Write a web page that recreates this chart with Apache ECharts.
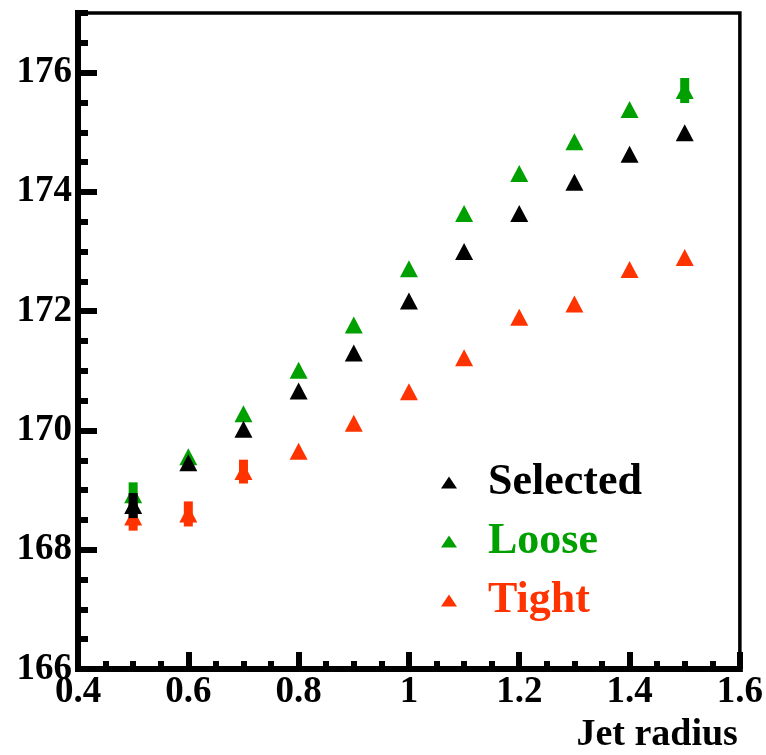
<!DOCTYPE html>
<html><head><meta charset="utf-8">
<script src="https://cdn.jsdelivr.net/npm/echarts@6/dist/echarts.min.js"></script>
<style>html,body{margin:0;padding:0;background:#fff}#c{width:766px;height:755px}</style>
</head><body><div id="c"></div>
<script>
const jetRadius = [0.5, 0.6, 0.7, 0.8, 0.9, 1.0, 1.1, 1.2, 1.3, 1.4, 1.5];
const selected = [168.74, 169.46, 170.02, 170.66, 171.30, 172.17, 173.00, 173.64, 174.16, 174.63, 174.99];
const loose    = [168.92, 169.56, 170.28, 171.01, 171.77, 172.71, 173.64, 174.31, 174.84, 175.38, 175.70];
const tight    = [168.55, 168.60, 169.31, 169.65, 170.12, 170.65, 171.22, 171.90, 172.12, 172.70, 172.90];
const selectedErr = [0.21, 0, 0, 0, 0, 0, 0, 0, 0, 0, 0];
const looseErr    = [0.21, 0, 0, 0, 0, 0, 0, 0, 0, 0, 0.21];
const tightErr    = [0.23, 0.21, 0.20, 0, 0, 0, 0, 0, 0, 0, 0];
const xTicks = [0.4, 0.6, 0.8, 1, 1.2, 1.4, 1.6];
const yTicks = [166, 168, 170, 172, 174, 176];
const seriesNames = ['Selected', 'Loose', 'Tight'];
const xTitle = 'Jet radius';

const colors = ['#000000', '#00a000', '#ff3300'];
const FONT = 'Liberation Serif';

function errSeries(name, vals, errs, color, z) {
  const data = [];
  jetRadius.forEach((x, i) => { if (errs[i] > 0) data.push([x, vals[i], errs[i]]); });
  return {
    type: 'custom', name: name + ' err', z: z, silent: true,
    data: data, encode: { x: 0, y: 1 },
    renderItem(params, api) {
      const x = api.value(0), v = api.value(1), e = api.value(2);
      const p1 = api.coord([x, v + e]), p2 = api.coord([x, v - e]);
      return { type: 'rect', shape: { x: p1[0] - 4.5, y: p1[1], width: 9, height: p2[1] - p1[1] }, style: { fill: color } };
    }
  };
}
function ptSeries(name, vals, color, z) {
  return {
    type: 'scatter', name: name, z: z, symbol: 'triangle', symbolSize: [18, 17],
    itemStyle: { color: color, opacity: 1 },
    data: jetRadius.map((x, i) => [x, vals[i]])
  };
}
const labelStyle = { fontFamily: FONT, fontWeight: 'bold', fontSize: 37, color: '#000' };

const chart = echarts.init(document.getElementById('c'), null, { renderer: 'canvas' });
chart.setOption({
  animation: false,
  backgroundColor: '#fff',
  grid: { left: 78, right: 24, top: 13, bottom: 86, show: true, borderColor: '#000', borderWidth: 3.5, backgroundColor: 'transparent' },
  xAxis: [
    { type: 'value', min: 0.4, max: 1.6, interval: 0.2, position: 'bottom',
      axisLine: { show: true, onZero: false, lineStyle: { color: '#000', width: 6, cap: 'square' } },
      axisTick: { inside: true, length: 17, lineStyle: { color: '#000', width: 6 } },
      axisLabel: Object.assign({ margin: 5, formatter: v => { const r = +(+v).toFixed(1); return xTicks.includes(r) ? String(r) : ''; } }, labelStyle),
      splitLine: { show: false },
      name: xTitle, nameLocation: 'end', nameGap: -2,
      nameTextStyle: { fontFamily: FONT, fontWeight: 'bold', fontSize: 38, color: '#000', align: 'right', verticalAlign: 'top', padding: [47, 0, 0, 0] }
    },
    { type: 'value', min: 0.4, max: 1.6, interval: 0.05, position: 'bottom',
      axisLine: { show: false, onZero: false },
      axisTick: { inside: true, length: 8, lineStyle: { color: '#000', width: 6 } },
      axisLabel: { show: false }, splitLine: { show: false }
    }
  ],
  yAxis: [
    { type: 'value', min: 166, max: 177, interval: 2, position: 'left',
      axisLine: { show: true, onZero: false, lineStyle: { color: '#000', width: 6, cap: 'square' } },
      axisTick: { inside: true, length: 19, lineStyle: { color: '#000', width: 6 } },
      axisLabel: Object.assign({ margin: 6, showMaxLabel: false, formatter: v => yTicks.includes(v) ? String(v) : '' }, labelStyle),
      splitLine: { show: false }
    },
    { type: 'value', min: 166, max: 177, interval: 0.5, position: 'left',
      axisLine: { show: false, onZero: false },
      axisTick: { inside: true, length: 10, lineStyle: { color: '#000', width: 6 } },
      axisLabel: { show: false }, splitLine: { show: false }
    }
  ],
  legend: {
    orient: 'vertical', left: 436, top: 448, itemWidth: 16, itemHeight: 12, itemGap: 0,
    icon: 'triangle', selectedMode: false,
    data: seriesNames.map((n, i) => ({ name: n, textStyle: { color: colors[i] } })),
    textStyle: { fontFamily: FONT, fontWeight: 'bold', fontSize: 44, lineHeight: 59, padding: [0, 0, 0, 26] }
  },
  series: [
    errSeries(seriesNames[1], loose, looseErr, colors[1], 2),
    ptSeries(seriesNames[1], loose, colors[1], 3),
    errSeries(seriesNames[2], tight, tightErr, colors[2], 4),
    ptSeries(seriesNames[2], tight, colors[2], 5),
    errSeries(seriesNames[0], selected, selectedErr, colors[0], 6),
    ptSeries(seriesNames[0], selected, colors[0], 7)
  ]
});
</script></body></html>
